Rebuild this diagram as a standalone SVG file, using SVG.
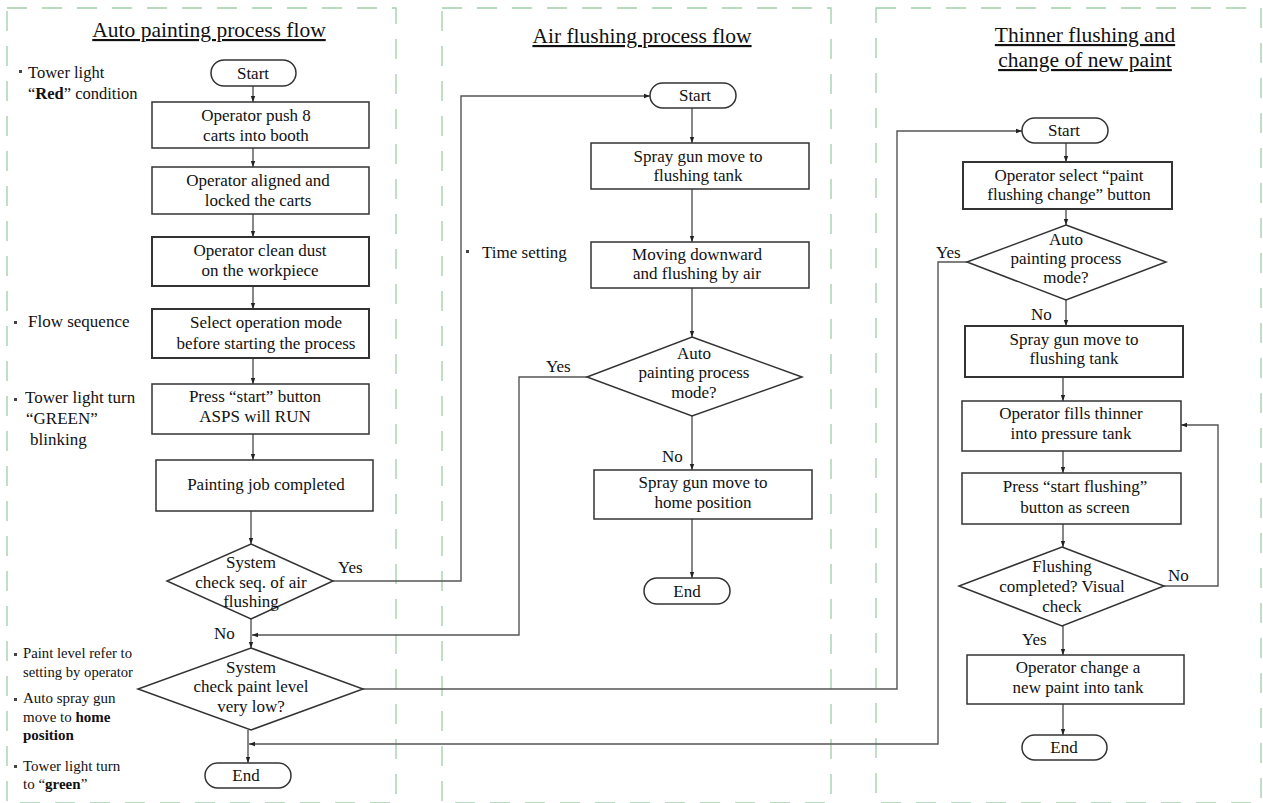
<svg xmlns="http://www.w3.org/2000/svg" width="1263" height="803" viewBox="0 0 1263 803">
<defs>
<marker id="ah" viewBox="0 0 6 6" refX="6" refY="3" markerWidth="6" markerHeight="6" markerUnits="userSpaceOnUse" orient="auto">
<path d="M0,0.8 L6,3 L0,5.2 z" fill="#222"/>
</marker>
<style>
text{font-family:'Liberation Serif','DejaVu Serif',serif}
.panel{fill:none;stroke:#9fcfa8;stroke-width:1.3;stroke-dasharray:20 15}
.box{fill:#fff;stroke:#333;stroke-width:1.5}
.bold{stroke-width:2}
.t{font-size:17px;fill:#111;text-anchor:middle}
.title{font-size:21.5px;fill:#111;text-anchor:middle;text-decoration:underline}
.a{font-size:17px;fill:#111}
.s{font-size:15px;fill:#111}
.b{font-weight:bold}
.c{fill:none;stroke:#555;stroke-width:1.4}
.bul{fill:#444}
</style>
</defs>
<rect fill="#fff" x="0" y="0" width="1263" height="803"/>
<g id="panels">
<rect class="panel" x="7" y="8" width="389" height="795"/>
<rect class="panel" x="442" y="8" width="389" height="795"/>
<rect class="panel" x="876" y="8" width="385" height="795"/>
</g>
<g id="titles">
<text class="title" x="209" y="37">Auto painting process flow</text>
<text class="title" x="642" y="43">Air flushing process flow</text>
<text class="title" x="1085" y="42">Thinner flushing and</text>
<text class="title" x="1085" y="67">change of new paint</text>
</g>
<g id="annotations">
<rect class="bul" x="19" y="70" width="3" height="3"/>
<text class="a" x="28" y="78" style="font-size:16.5px">Tower light</text>
<text class="a" x="28" y="99" style="font-size:16.5px">“<tspan class="b">Red</tspan>” condition</text>
<rect class="bul" x="14" y="321" width="3" height="3"/>
<text class="a" x="28" y="327">Flow sequence</text>
<rect class="bul" x="14" y="398" width="3" height="3"/>
<text class="a" x="25" y="403">Tower light turn</text>
<text class="a" x="26" y="424">“GREEN”</text>
<text class="a" x="30" y="445">blinking</text>
<rect class="bul" x="14" y="653" width="3" height="3"/>
<text class="s" x="23" y="658" textLength="109" lengthAdjust="spacingAndGlyphs">Paint level refer to</text>
<text class="s" x="23" y="677" textLength="110" lengthAdjust="spacingAndGlyphs">setting by operator</text>
<rect class="bul" x="14" y="698" width="3" height="3"/>
<text class="s" x="23" y="703">Auto spray gun</text>
<text class="s" x="23" y="722">move to <tspan class="b">home</tspan></text>
<text class="s b" x="23" y="740">position</text>
<rect class="bul" x="14" y="765" width="3" height="3"/>
<text class="s" x="23" y="771">Tower light turn</text>
<text class="s" x="23" y="789">to “<tspan class="b">green</tspan>”</text>
<rect class="bul" x="466" y="250" width="3" height="3"/>
<text class="a" x="482" y="258">Time setting</text>
</g>
<g id="connectors">
<line class="c" x1="253" y1="86" x2="253" y2="102" marker-end="url(#ah)"/>
<line class="c" x1="253" y1="148" x2="253" y2="167" marker-end="url(#ah)"/>
<line class="c" x1="253" y1="214" x2="253" y2="237" marker-end="url(#ah)"/>
<line class="c" x1="253" y1="286" x2="253" y2="309" marker-end="url(#ah)"/>
<line class="c" x1="253" y1="358" x2="253" y2="384" marker-end="url(#ah)"/>
<line class="c" x1="253" y1="434" x2="253" y2="460" marker-end="url(#ah)"/>
<line class="c" x1="251" y1="511" x2="251" y2="544" marker-end="url(#ah)"/>
<line class="c" x1="251" y1="619" x2="251" y2="648" marker-end="url(#ah)"/>
<polyline class="c" points="333,581 461,581 461,96 650,96" marker-end="url(#ah)"/>
<polyline class="c" points="587,377 519,377 519,635 252,635" marker-end="url(#ah)"/>
<line class="c" x1="248" y1="730" x2="248" y2="763" marker-end="url(#ah)"/>
<polyline class="c" points="363,689 897,689 897,131 1022,131" marker-end="url(#ah)"/>
<polyline class="c" points="967,262 938,262 938,744 249,744" marker-end="url(#ah)"/>
<line class="c" x1="692" y1="108" x2="692" y2="143" marker-end="url(#ah)"/>
<line class="c" x1="692" y1="189" x2="692" y2="242" marker-end="url(#ah)"/>
<line class="c" x1="692" y1="288" x2="692" y2="337" marker-end="url(#ah)"/>
<line class="c" x1="692" y1="416" x2="692" y2="470" marker-end="url(#ah)"/>
<line class="c" x1="692" y1="519" x2="692" y2="578" marker-end="url(#ah)"/>
<line class="c" x1="1066" y1="143" x2="1066" y2="162" marker-end="url(#ah)"/>
<line class="c" x1="1066" y1="209" x2="1066" y2="225" marker-end="url(#ah)"/>
<line class="c" x1="1066" y1="300" x2="1066" y2="326" marker-end="url(#ah)"/>
<line class="c" x1="1063" y1="377" x2="1063" y2="401" marker-end="url(#ah)"/>
<line class="c" x1="1063" y1="451" x2="1063" y2="473" marker-end="url(#ah)"/>
<line class="c" x1="1063" y1="524" x2="1063" y2="547" marker-end="url(#ah)"/>
<polyline class="c" points="1164,586 1218,586 1218,425 1181,425" marker-end="url(#ah)"/>
<line class="c" x1="1063" y1="626" x2="1063" y2="655" marker-end="url(#ah)"/>
<line class="c" x1="1063" y1="704" x2="1063" y2="735" marker-end="url(#ah)"/>
<text class="a" x="338" y="573">Yes</text>
<text class="a" x="214" y="639">No</text>
<text class="a" x="546" y="372">Yes</text>
<text class="a" x="662" y="462">No</text>
<text class="a" x="936" y="258">Yes</text>
<text class="a" x="1031" y="320">No</text>
<text class="a" x="1168" y="581">No</text>
<text class="a" x="1022" y="645">Yes</text>
</g>
<g id="p1-start"><rect class="box" x="211" y="60" width="85" height="26" rx="13"/><text class="t" x="253" y="79">Start</text></g>
<g id="p1-push"><rect class="box" x="152" y="102" width="217" height="46"/><text class="t" x="256" y="121">Operator push 8</text><text class="t" x="256" y="141">carts into booth</text></g>
<g id="p1-align"><rect class="box" x="152" y="167" width="217" height="47"/><text class="t" x="258" y="186">Operator aligned and</text><text class="t" x="258" y="206">locked the carts</text></g>
<g id="p1-clean"><rect class="box bold" x="152" y="237" width="217" height="49"/><text class="t" x="260" y="256">Operator clean dust</text><text class="t" x="260" y="276">on the workpiece</text></g>
<g id="p1-select"><rect class="box bold" x="152" y="309" width="217" height="49"/><text class="t" x="266" y="328">Select operation mode</text><text class="t" x="266" y="349">before starting the process</text></g>
<g id="p1-press"><rect class="box" x="152" y="384" width="217" height="50"/><text class="t" x="255" y="402">Press “start” button</text><text class="t" x="255" y="422">ASPS will RUN</text></g>
<g id="p1-job"><rect class="box" x="156" y="460" width="217" height="51"/><text class="t" x="266" y="490">Painting job completed</text></g>
<g id="p1-d1"><polygon class="box" points="251,544 333,581 251,619 167,581"/><text class="t" x="251" y="568">System</text><text class="t" x="251" y="588">check seq. of air</text><text class="t" x="251" y="607">flushing</text></g>
<g id="p1-d2"><polygon class="box" points="251,648 363,689 251,730 138,689"/><text class="t" x="251" y="673">System</text><text class="t" x="251" y="692">check paint level</text><text class="t" x="251" y="712">very low?</text></g>
<g id="p1-end"><rect class="box" x="205" y="763" width="86" height="25" rx="12.5"/><text class="t" x="246" y="781">End</text></g>
<g id="p2-start"><rect class="box" x="650" y="83" width="86" height="25" rx="12.5"/><text class="t" x="695" y="101">Start</text></g>
<g id="p2-spray"><rect class="box" x="591" y="143" width="218" height="46"/><text class="t" x="698" y="162">Spray gun move to</text><text class="t" x="698" y="181">flushing tank</text></g>
<g id="p2-move"><rect class="box" x="591" y="242" width="218" height="46"/><text class="t" x="697" y="260">Moving downward</text><text class="t" x="697" y="279">and flushing by air</text></g>
<g id="p2-d"><polygon class="box" points="692,337 802,377 692,416 587,377"/><text class="t" x="694" y="359">Auto</text><text class="t" x="694" y="378">painting process</text><text class="t" x="694" y="398">mode?</text></g>
<g id="p2-home"><rect class="box" x="594" y="470" width="218" height="49"/><text class="t" x="703" y="488">Spray gun move to</text><text class="t" x="703" y="508">home position</text></g>
<g id="p2-end"><rect class="box" x="644" y="578" width="86" height="26" rx="13"/><text class="t" x="687" y="597">End</text></g>
<g id="p3-start"><rect class="box" x="1022" y="118" width="86" height="25" rx="12.5"/><text class="t" x="1064" y="136">Start</text></g>
<g id="p3-select"><rect class="box bold" x="963" y="162" width="209" height="47"/><text class="t" x="1069" y="181">Operator select “paint</text><text class="t" x="1069" y="200">flushing change” button</text></g>
<g id="p3-d1"><polygon class="box" points="1066,225 1166,262 1066,300 967,262"/><text class="t" x="1066" y="245">Auto</text><text class="t" x="1066" y="264">painting process</text><text class="t" x="1066" y="283">mode?</text></g>
<g id="p3-spray"><rect class="box bold" x="965" y="326" width="218" height="51"/><text class="t" x="1074" y="345">Spray gun move to</text><text class="t" x="1074" y="364">flushing tank</text></g>
<g id="p3-fill"><rect class="box" x="962" y="401" width="219" height="50"/><text class="t" x="1071" y="419">Operator fills thinner</text><text class="t" x="1071" y="439">into pressure tank</text></g>
<g id="p3-press"><rect class="box" x="962" y="473" width="219" height="51"/><text class="t" x="1075" y="492">Press “start flushing”</text><text class="t" x="1075" y="513">button as screen</text></g>
<g id="p3-d2"><polygon class="box" points="1062,547 1164,586 1062,626 959,586"/><text class="t" x="1062" y="572">Flushing</text><text class="t" x="1062" y="592">completed? Visual</text><text class="t" x="1062" y="612">check</text></g>
<g id="p3-change"><rect class="box" x="967" y="655" width="217" height="49"/><text class="t" x="1078" y="673">Operator change a</text><text class="t" x="1078" y="693">new paint into tank</text></g>
<g id="p3-end"><rect class="box" x="1022" y="735" width="85" height="25" rx="12.5"/><text class="t" x="1064" y="753">End</text></g>
</svg>
